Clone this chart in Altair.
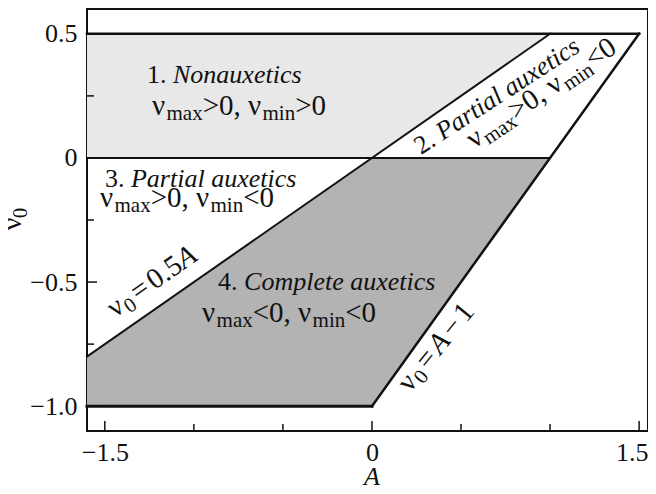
import altair as alt
import pandas as pd

# ---------------- data ----------------
x_domain = [-1.6, 1.55]
y_domain = [-1.1, 0.6]

# region 1 (nonauxetics): lower / upper boundary at given A
r1_A = [-1.6, 0.0, 1.0]
r1_lo = [0.0, 0.0, 0.5]
r1_hi = [0.5, 0.5, 0.5]

# region 4 (complete auxetics)
r4_A = [-1.6, 0.0, 1.0]
r4_lo = [-1.0, -1.0, 0.0]
r4_hi = [-0.8, 0.0, 0.0]

# boundary segments
seg_names = ["top", "right", "bottom", "zero", "diag"]
seg_A = [[-1.6, 1.5], [1.5, 0.0], [0.0, -1.6], [-1.6, 1.0], [-1.6, 1.0]]
seg_v = [[0.5, 0.5], [0.5, -1.0], [-1.0, -1.0], [0.0, 0.0], [-0.8, 0.5]]

x_labels = [-1.5, 0.0, 1.5]
y_labels = [0.5, 0.0, -0.5, -1.0]
x_ticks_major = [-1.5, 0.0, 1.5]
x_ticks_minor = [-1.0, -0.5, 0.5, 1.0]
y_ticks_major = [0.5, 0.0, -0.5, -1.0]
y_ticks_minor = [0.25, -0.25, -0.75]

# annotation lines: anchor A, anchor v, angle, pieces (text, style)
label_A = [-1.263, -1.235, -1.499, -1.527, -0.864, -0.954, 0.275, 0.573, -1.443, 0.214]
label_v = [0.302, 0.173, -0.117, -0.198, -0.532, -0.661, 0.012, 0.036, -0.645, -0.947]
label_angle = [0, 0, 0, 0, 0, 0, 327, 326, 325, 309]
label_pieces = [
    [("1. ", "r"), ("Nonauxetics", "i")],
    [("ν", "m"), ("max", "s"), (">0, ν", "m"), ("min", "s"), (">0", "m")],
    [("3. ", "r"), ("Partial auxetics", "i")],
    [("ν", "m"), ("max", "s"), (">0, ν", "m"), ("min", "s"), ("<0", "m")],
    [("4. ", "r"), ("Complete auxetics", "i")],
    [("ν", "m"), ("max", "s"), ("<0, ν", "m"), ("min", "s"), ("<0", "m")],
    [("2. ", "r"), ("Partial auxetics", "i")],
    [("ν", "m"), ("max", "s"), (">0, ν", "m"), ("min", "s"), ("<0", "m")],
    [("ν", "m"), ("0", "s"), ("", "g"), ("=", "m"), ("", "g"), ("0.5", "m"), ("A", "mi")],
    [("ν", "m"), ("0", "s"), ("", "g"), ("=", "m"), ("", "g"), ("A", "mi"), ("", "g"),
     ("−", "m"), ("", "g"), ("1", "m")],
]

# ---------------- style ----------------
W, H = 561, 422
FONT = "Liberation Serif"
INK = "#111111"
LIGHT = "#e8e8e8"
DARK = "#b3b3b3"
SIZES = {"r": 26, "i": 26, "m": 29, "mi": 29, "s": 21, "g": 0}
GAP = 3.5
SUB_DY = 5
TICK_FS = 26
seg_width = {"top": 2.5, "right": 2.5, "bottom": 3.0, "zero": 2.0, "diag": 2.0}

ROMAN = {" ": 250, ",": 250, ".": 250, ">": 564, "<": 564, "=": 564, "−": 564,
         "ν": 500, "m": 778, "a": 444, "x": 500, "i": 278, "n": 500}
for d in "0123456789":
    ROMAN[d] = 500
ITALIC = {"N": 667, "o": 500, "n": 500, "a": 500, "u": 500, "x": 444, "e": 444,
          "t": 278, "i": 278, "c": 444, "s": 389, "P": 611, "r": 389, "l": 278,
          " ": 250, "C": 667, "m": 722, "p": 500, "A": 611}


def width(s, style):
    if style == "g":
        return GAP
    table = ITALIC if style in ("i", "mi") else ROMAN
    return sum(table.get(c, 500) for c in s) * SIZES[style] / 1000.0


LABEL_EXPR = "datum.value == 0 ? '0' : replace(format(datum.value, '.1f'), '-', '\u2212')"
xenc = alt.X("A:Q", scale=alt.Scale(domain=x_domain, nice=False, zero=False),
             axis=alt.Axis(values=x_labels, ticks=False, domain=False, grid=False,
                           title=None, labelPadding=8, labelExpr=LABEL_EXPR,
                           labelFlush=10, labelFlushOffset=9))
yenc = alt.Y("v:Q", scale=alt.Scale(domain=y_domain, nice=False, zero=False),
             axis=alt.Axis(values=y_labels, ticks=False, domain=False, grid=False, title=None,
                           labelPadding=10, labelExpr=LABEL_EXPR, labelFlush=False))

# areas
df1 = pd.DataFrame({"A": r1_A, "v": r1_lo, "v2": r1_hi})
df4 = pd.DataFrame({"A": r4_A, "v": r4_lo, "v2": r4_hi})
area1 = alt.Chart(df1).mark_area(color=LIGHT, opacity=1).encode(x=xenc, y=yenc, y2="v2:Q")
area4 = alt.Chart(df4).mark_area(color=DARK, opacity=1).encode(x=xenc, y=yenc, y2="v2:Q")

# boundary lines
rows = []
for name, aa, vv in zip(seg_names, seg_A, seg_v):
    for i, (a, v) in enumerate(zip(aa, vv)):
        rows.append({"seg": name, "i": i, "A": a, "v": v, "w": seg_width[name]})
dseg = pd.DataFrame(rows)
lines = alt.Chart(dseg).mark_line(color=INK, strokeCap="square").encode(
    x=xenc, y=yenc, detail="seg:N", order="i:Q",
    strokeWidth=alt.StrokeWidth("w:Q", scale=None))


# inward ticks
def xticks(vals, L):
    return alt.Chart(pd.DataFrame({"A": vals})).mark_rule(color=INK, strokeWidth=1.5).encode(
        x=xenc, y=alt.value(H), y2=alt.value(H - L))


def yticks(vals, L):
    return alt.Chart(pd.DataFrame({"v": vals})).mark_rule(color=INK, strokeWidth=1.5).encode(
        y=yenc, x=alt.value(0), x2=alt.value(L))


tick_layers = [xticks(x_ticks_major, 10), xticks(x_ticks_minor, 7),
               yticks(y_ticks_major, 10), yticks(y_ticks_minor, 7)]

# annotations
text_layers = []
for a, v, ang, pieces in zip(label_A, label_v, label_angle, label_pieces):
    dx = 0.0
    for txt, st in pieces:
        if st == "g":
            dx += GAP
            continue
        kw = dict(align="left", baseline="alphabetic", font=FONT, color=INK,
                  fontSize=SIZES[st],
                  fontStyle="italic" if st in ("i", "mi") else "normal",
                  dx=dx, dy=SUB_DY if st == "s" else 0)
        if ang:
            kw["angle"] = ang
        d = pd.DataFrame({"A": [a], "v": [v], "t": [txt]})
        text_layers.append(alt.Chart(d).mark_text(**kw).encode(x=xenc, y=yenc, text="t:N"))
        dx += width(txt, st)

# axis titles: nu_0 (rotated) and italic A
titles = [
    alt.Chart(pd.DataFrame({"t": ["ν"]})).mark_text(font=FONT, fontSize=28, color=INK, angle=270,
                                                   align="center", baseline="middle").encode(
        x=alt.value(-74), y=alt.value(215), text="t:N"),
    alt.Chart(pd.DataFrame({"t": ["0"]})).mark_text(font=FONT, fontSize=21, color=INK, angle=270,
                                                   align="center", baseline="middle").encode(
        x=alt.value(-66), y=alt.value(204), text="t:N"),
    alt.Chart(pd.DataFrame({"A": [0.0], "t": ["A"]})).mark_text(
        font=FONT, fontSize=26, fontStyle="italic", color=INK, align="center",
        baseline="alphabetic").encode(x=xenc, y=alt.value(H + 54), text="t:N"),
]

chart = alt.layer(area1, area4, lines, *tick_layers, *text_layers, *titles).properties(
    width=W, height=H,
    autosize=alt.AutoSizeParams(type="none"),
    padding={"left": 79, "top": 1, "right": 0, "bottom": 55},
).configure_view(stroke=INK, strokeWidth=2).configure_axis(
    labelFont=FONT, labelFontSize=TICK_FS, labelColor=INK,
)

chart.save("out.html", embed_options={"renderer": "svg", "actions": False})
